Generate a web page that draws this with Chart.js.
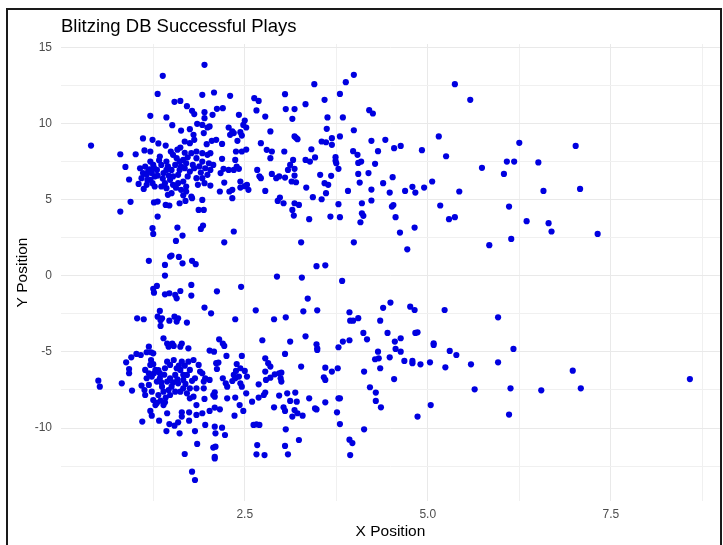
<!DOCTYPE html>
<html>
<head>
<meta charset="utf-8">
<script src="https://cdn.jsdelivr.net/npm/chart.js@4.4.1/dist/chart.umd.min.js"></script>
<style>
  html, body { margin: 0; padding: 0; background: #ffffff; }
  #wrap { position: relative; width: 723px; height: 545px; overflow: hidden; }
  #c { display: block; }
  #frame { position: absolute; left: 6px; top: 8px; width: 716px; height: 600px; box-sizing: border-box;
           border: 2px solid #1a1a1a; border-bottom: none; pointer-events: none; }
</style>
</head>
<body>
<div id="wrap">
  <canvas id="c" width="723" height="545"></canvas>
  <div id="frame"></div>
</div>
<script>
// ---- Data (X Position, Y Position) ----
const chartTitle = 'Blitzing DB Successful Plays';
const xAxisTitle = 'X Position';
const yAxisTitle = 'Y Position';

const xMajorTicks = [2.5, 5.0, 7.5];
const xMinorTicks = [1.25, 3.75, 6.25, 8.75];
const yMajorTicks = [-10, -5, 0, 5, 10, 15];
const yMinorTicks = [-12.5, -7.5, -2.5, 2.5, 7.5, 12.5];

const upperPlays = [
[1.38,13.16],[1.31,11.97],[1.54,11.45],[1.62,11.51],[1.71,11.16],[1.78,10.86],[1.81,10.64],[1.21,10.53],[1.43,10.42],[1.51,9.91],
[1.85,10.0],[1.63,9.56],[1.75,9.65],[1.80,9.28],[0.40,8.57],[1.11,9.04],[1.24,8.95],[1.32,8.71],[1.42,8.57],[0.80,8.0],
[1.01,8.0],[1.13,8.25],[1.21,8.18],[1.49,8.18],[1.62,8.44],[1.68,8.84],[1.75,8.73],[1.81,8.95],[1.84,8.18],[0.87,7.17],
[0.92,6.34],[1.05,6.05],[1.12,5.72],[0.94,4.87],[0.80,4.23],[1.26,4.83],[1.31,4.89],[1.42,4.67],[1.47,4.63],[1.61,4.78],
[1.69,4.93],[1.78,5.11],[1.87,4.34],
[1.21,7.52],[1.25,7.3],[1.18,6.86],[1.11,6.76],[1.16,6.65],[1.23,6.76],[1.27,6.54],[1.21,6.32],[1.30,6.97],[1.36,7.3],
[1.34,7.85],[1.43,7.52],[1.50,6.97],[1.52,7.96],[1.57,7.74],[1.61,7.52],[1.66,7.63],[1.70,7.41],[1.68,7.08],[1.75,6.86],
[1.79,7.3],[1.84,7.74],[1.77,8.07],[1.81,7.08],[1.59,6.65],[1.52,6.54],[1.48,6.32],[1.41,6.1],[1.36,5.88],[1.43,5.77],
[1.52,5.99],[1.59,6.1],[1.66,6.21],[1.70,5.88],[1.63,5.66],[1.70,5.55],[1.77,5.22],[1.50,5.44],[1.45,5.33],[1.27,5.88],
[1.16,5.99],[1.14,7.19],[1.07,7.08],[1.09,6.43],[1.39,6.76],[1.43,6.97],[1.61,6.97],[1.72,6.54],[1.84,6.43],[1.86,5.99],
[1.20,7.0],[1.26,7.1],[1.31,6.6],[1.17,6.3],[1.24,6.1],[1.33,7.6],[1.45,7.2],[1.55,7.3],[1.63,7.2],[1.72,7.8],
[1.58,8.3],[1.68,8.1],[1.88,7.2],[1.90,6.8],[1.46,6.6],[1.38,6.4],[1.56,5.8],[1.66,5.3],
[1.95,13.88],[1.92,11.91],[2.08,12.06],[2.30,11.84],[1.95,10.77],[1.95,10.37],[2.06,10.59],[2.12,10.99],[2.20,11.03],[2.42,10.59],
[2.63,11.69],[2.69,11.51],[2.66,10.88],[2.78,10.48],[3.05,11.95],[3.06,10.97],[3.18,10.97],[3.15,10.33],[3.33,11.29],[3.45,12.61],
[3.59,11.58],[3.63,10.42],
[1.92,9.93],[1.99,9.76],[2.02,9.83],[1.94,9.39],[2.28,9.76],[2.33,9.5],[2.30,9.28],[2.35,9.39],[2.44,9.45],[2.46,9.23],
[2.50,10.22],[2.48,9.93],[2.52,9.76],[2.40,8.88],[2.05,8.88],[2.11,8.95],[1.98,8.66],[2.19,8.68],[1.92,8.07],[1.99,7.96],
[2.03,8.07],[2.38,8.18],[2.46,8.18],[2.52,8.31],[2.85,9.5],[2.72,8.73],[2.80,8.29],[2.87,8.18],[2.85,7.74],[3.04,8.18],
[3.18,9.17],[3.22,8.99],[3.20,9.08],[3.41,8.33],[3.55,8.84],[3.61,8.79],[3.62,9.67],[3.33,7.63],[3.39,7.52],[3.46,7.79],
[3.16,7.63],
[1.92,7.52],[2.01,7.41],[2.07,7.3],[1.96,7.08],[2.03,6.97],[2.19,7.7],[2.37,7.63],[2.39,7.19],[2.35,6.97],[2.28,6.97],
[2.21,7.04],[2.17,6.76],[2.42,7.04],[1.99,6.65],[1.92,6.43],[1.95,6.1],[2.03,5.94],[2.22,6.14],[2.16,5.55],[2.29,5.55],
[2.33,5.66],[2.44,6.21],[2.44,5.81],[2.53,5.99],[2.55,5.66],[2.50,5.9],[2.67,6.97],[2.72,6.43],[2.70,6.55],[2.87,6.71],
[2.93,6.43],[2.97,6.54],[3.05,6.47],[3.09,6.97],[3.12,7.3],[3.18,7.04],[3.14,6.21],[3.20,6.16],[3.18,6.6],[2.78,5.59],
[2.98,5.15],[2.95,4.93],[3.03,4.78],[3.18,4.78],[3.24,4.67],[3.15,4.34],[3.34,5.81],[3.43,5.18],[3.53,6.65],[3.59,6.1],
[3.64,5.99],[3.55,5.04],[3.61,5.44],[1.92,5.0],[1.94,4.34],[2.33,5.11],
[3.99,13.22],[3.88,12.74],[3.80,11.97],[3.84,10.42],[4.20,10.9],[4.25,10.68],[5.37,12.61],[3.99,9.58],[3.80,9.17],[3.69,8.62],
[3.69,9.06],[4.23,8.88],[4.42,8.95],[4.54,8.4],[4.63,8.55],[4.92,8.27],[5.15,9.17],[5.25,7.87],[3.98,8.2],[4.04,7.96],
[3.74,7.81],[3.74,7.57],[3.75,7.41],[3.78,7.04],[4.05,7.43],[4.09,7.52],[4.28,7.37],[4.32,8.2],[3.68,6.58],[4.05,6.71],
[4.07,6.14],[4.19,6.76],[4.39,6.1],[4.52,6.49],[3.91,5.59],[4.23,5.68],[4.48,5.48],[4.69,5.59],[4.79,5.86],[4.83,5.48],
[4.95,5.81],[5.06,6.21],[5.43,5.55],[3.78,4.72],[4.10,4.78],[4.23,4.96],[4.51,4.56],[4.53,4.66],[5.17,4.63],[4.10,4.12],
[5.58,11.58],[6.25,8.75],[7.02,8.55],[6.08,7.52],[6.18,7.52],[6.51,7.46],[5.74,7.11],[6.04,6.71],[6.58,5.59],[7.08,5.72],
[6.11,4.56],[6.35,3.6],[6.65,3.47],[6.69,2.92],[7.32,2.76],[6.14,2.43],[5.84,2.02]
];

const middlePlays = [
[1.31,3.9],[1.24,3.14],[1.25,2.76],[1.58,3.18],[1.65,2.65],[1.56,2.3],[1.90,3.09],[1.93,3.31],[2.35,2.92],[2.22,2.21],
[3.17,3.97],[3.38,3.73],[3.27,2.21],[1.19,0.99],[1.41,0.72],[1.48,1.27],[1.50,1.34],[1.60,1.25],[1.65,0.83],[1.78,0.99],
[1.83,0.77],[1.41,0.02],[2.94,-0.04],[3.28,-0.11],[3.48,0.64],[3.60,0.7],[1.25,-0.85],[1.26,-1.1],[1.30,-0.66],[1.41,-1.21],
[1.47,-1.14],[1.55,-1.25],[1.57,-1.47],[1.62,-0.99],[1.77,-0.59],[1.77,-1.29],[2.12,-1.01],[2.45,-0.72],[1.95,-2.08],[2.04,-2.46],
[1.34,-2.3],[1.03,-2.79],[1.12,-2.85],[1.31,-2.68],[1.37,-2.79],[1.35,-2.92],[1.47,-2.94],[1.54,-2.68],[1.59,-2.79],[1.57,-3.0],
[1.71,-3.07],[1.35,-3.29],[2.37,-2.85],[2.65,-2.26],[2.90,-2.85],[3.06,-2.72],[3.30,-2.33],[3.49,-2.26],[3.36,-1.49],[1.39,-4.1],
[1.44,-4.45],[1.51,-4.45],[1.64,-4.45],[2.15,-4.17],[2.20,-4.45],[2.74,-4.23],[3.12,-4.32],[3.33,-3.97],[3.48,-4.5],
[3.67,3.9],[3.80,3.86],[4.08,3.53],[4.12,3.95],[4.56,3.86],[4.62,2.85],[4.82,3.18],[5.29,3.73],[5.37,3.86],[3.99,2.21],
[4.72,1.75],[3.83,-0.33],[3.93,-2.39],[3.94,-2.94],[3.98,-2.94],[4.05,-2.78],[4.39,-2.1],[4.49,-1.75],[4.76,-2.02],[4.82,-2.24],
[4.35,-2.94],[5.23,-2.24],[5.96,-2.72],[4.12,-3.75],[4.17,-4.17],[4.45,-3.75],[4.63,-4.1],[4.55,-4.32],[4.83,-3.75],[4.86,-3.71],
[3.84,-4.32],[3.93,-4.23],[5.08,-4.43]
];

const lowerPlays = [
[0.50,-6.89],[0.52,-7.28],[0.82,-7.06],[0.88,-5.68],[0.95,-5.35],[1.02,-5.13],[1.08,-5.2],[1.16,-5.02],[1.19,-4.65],[1.22,-5.02],
[1.25,-5.09],[0.92,-6.12],[0.92,-6.4],[0.96,-7.54],[1.09,-7.21],[1.13,-7.5],[1.14,-7.83],[1.10,-9.58],[1.21,-8.88],[1.23,-9.19],
[1.33,-9.52],[1.43,-10.2],[1.47,-9.74],[1.54,-9.85],[1.59,-9.63],[1.61,-10.35],[1.64,-9.25],[1.64,-8.97],[1.74,-8.97],[1.74,-9.52],
[1.82,-10.2],[1.84,-9.14],[1.85,-11.05],[1.68,-11.71],[1.78,-12.87],[1.82,-13.42],[1.44,-9.03],
[1.14,-6.18],[1.19,-6.4],[1.16,-6.73],[1.23,-6.62],[1.21,-5.85],[1.22,-5.53],[1.28,-6.18],[1.34,-6.4],[1.30,-6.95],[1.37,-7.28],
[1.34,-6.73],[1.41,-6.07],[1.44,-5.64],[1.48,-5.85],[1.53,-5.53],[1.57,-6.07],[1.62,-6.18],[1.64,-5.64],[1.55,-6.51],[1.48,-6.73],
[1.44,-6.95],[1.50,-7.28],[1.59,-7.06],[1.66,-6.84],[1.71,-6.51],[1.75,-6.18],[1.82,-6.73],[1.84,-7.39],[1.75,-7.39],[1.71,-7.72],
[1.75,-8.05],[1.66,-7.39],[1.62,-7.61],[1.48,-7.83],[1.41,-8.31],[1.39,-8.49],[1.25,-8.16],[1.28,-8.49],[1.23,-7.61],[1.19,-7.17],
[1.84,-8.49],[1.80,-7.94],[1.62,-4.65],[1.73,-4.76],[1.46,-4.65],[1.53,-4.6],[1.73,-5.64],[1.80,-5.53],[1.87,-5.85],[1.89,-6.29],
[1.39,-7.61],[1.55,-7.61],[1.32,-7.83],
[1.26,-6.4],[1.32,-6.2],[1.40,-6.5],[1.36,-7.0],[1.46,-7.5],[1.52,-7.0],[1.58,-6.8],[1.66,-6.5],[1.60,-5.9],[1.42,-8.0],
[1.35,-8.2],[1.30,-8.35],[1.69,-7.1],[1.78,-6.9],[1.25,-5.8],[1.68,-5.9],
[2.02,-4.91],[2.08,-4.98],[2.22,-4.6],[2.11,-5.74],[2.14,-5.70],[2.25,-5.26],[2.46,-5.26],[2.39,-5.79],[2.12,-6.12],[2.78,-5.42],
[2.82,-5.74],[2.85,-5.96],[3.05,-5.13],[2.78,-6.29],[2.38,-6.25],[2.50,-6.25],[3.27,-5.96],[3.49,-4.76],[3.60,-6.03],[1.92,-6.4],
[1.96,-6.73],[2.02,-6.84],[1.94,-7.39],[1.95,-8.09],[1.92,-9.03],[2.07,-7.83],[2.09,-7.94],[2.09,-7.65],[2.20,-6.73],[2.24,-7.06],
[2.26,-7.28],[2.33,-6.91],[2.35,-6.51],[2.37,-6.73],[2.42,-6.62],[2.44,-7.06],[2.46,-7.28],[2.53,-6.62],[2.52,-7.72],[2.26,-8.05],
[2.37,-8.0],[2.43,-8.49],[2.48,-8.88],[2.36,-9.19],[2.16,-8.77],[2.09,-8.66],[2.02,-8.88],[2.69,-7.13],[2.60,-8.27],[2.69,-8.0],
[2.76,-7.83],[2.78,-7.67],[2.79,-6.84],[2.85,-6.69],[2.91,-6.47],[2.97,-6.4],[3.00,-6.36],[2.99,-6.73],[3.00,-6.95],[2.97,-7.87],
[3.08,-7.72],[3.19,-7.67],[2.90,-8.64],[3.03,-8.64],[3.05,-8.88],[3.12,-8.22],[3.21,-8.27],[3.18,-8.82],[3.22,-9.03],[3.15,-9.25],
[3.29,-9.19],[3.38,-8.05],[3.46,-8.71],[3.48,-8.78],[3.60,-8.31],[3.60,-6.84],[3.58,-6.67],[3.49,-4.87],[1.96,-9.8],[2.09,-9.91],
[2.10,-10.35],[2.19,-9.98],[2.23,-10.46],[2.62,-9.8],[2.66,-9.76],[2.70,-9.8],[3.06,-10.09],[3.24,-10.79],[2.07,-11.29],[2.10,-11.23],
[2.09,-11.89],[2.09,-12.0],[2.67,-11.12],[2.66,-11.73],[2.77,-11.78],[3.05,-11.18],[3.09,-11.73],[1.94,-6.95],[2.44,-6.07],
[3.78,-4.69],[4.32,-4.98],[4.28,-5.48],[4.33,-5.42],[4.56,-4.8],[4.63,-4.98],[4.48,-5.35],[4.68,-5.59],[4.79,-5.59],[4.79,-5.74],
[4.90,-5.81],[5.03,-5.68],[5.08,-4.54],[5.30,-4.93],[5.39,-5.2],[5.24,-6.01],[3.69,-6.29],[3.77,-6.07],[4.13,-6.29],[4.35,-6.07],
[4.54,-6.78],[4.21,-7.32],[4.29,-7.67],[4.29,-8.22],[4.36,-8.64],[3.78,-8.05],[3.80,-8.05],[3.76,-8.97],[3.80,-9.74],[4.13,-10.09],
[3.93,-10.77],[3.97,-10.99],[3.94,-11.78],[4.86,-9.25],[5.04,-8.49],
[6.17,-4.8],[5.59,-5.81],[5.96,-5.68],[6.98,-6.23],[5.64,-7.46],[6.13,-7.39],[6.55,-7.52],[7.09,-7.39],[8.58,-6.78],[6.11,-9.12]
];

// ---- Chart ----
const toPoints = arr => arr.map(p => ({ x: p[0], y: p[1] }));
const allPlays = toPoints(upperPlays.concat(middlePlays, lowerPlays));

const FONT = '"Liberation Sans", Arial, "DejaVu Sans", sans-serif';
const xTickList = xMinorTicks.concat(xMajorTicks).sort((a, b) => a - b);
const yTickList = yMinorTicks.concat(yMajorTicks).sort((a, b) => a - b);
const isMajor = (list, v) => list.some(t => Math.abs(t - v) < 1e-9);

const titlePlugin = {
  id: 'plotTitle',
  afterDraw(chart) {
    const ctx = chart.ctx;
    ctx.save();
    ctx.fillStyle = '#000000';
    ctx.font = '18.5px ' + FONT;
    ctx.textAlign = 'left';
    ctx.textBaseline = 'alphabetic';
    ctx.fillText(chartTitle, 61, 32);
    ctx.restore();
  }
};

new Chart(document.getElementById('c'), {
  type: 'scatter',
  data: {
    datasets: [{
      data: allPlays,
      backgroundColor: '#0000e0',
      borderWidth: 0,
      pointRadius: 3.1,
      pointHoverRadius: 3.1
    }]
  },
  options: {
    responsive: false,
    animation: false,
    devicePixelRatio: 1,
    events: [],
    layout: { padding: { left: 0, right: 3, top: 44, bottom: 0 } },
    plugins: { legend: { display: false }, title: { display: false }, tooltip: { enabled: false } },
    scales: {
      x: {
        type: 'linear',
        min: -0.01,
        max: 8.99,
        afterBuildTicks: s => { s.ticks = xTickList.map(v => ({ value: v })); },
        afterFit: s => { s.height = 44; },
        border: { display: false },
        grid: {
          drawTicks: false,
          color: c => isMajor(xMajorTicks, c.tick.value) ? '#e9e9e9' : '#f0f0f0',
          lineWidth: 1
        },
        ticks: {
          autoSkip: false,
          maxRotation: 0,
          padding: 6,
          color: '#4d4d4d',
          font: { family: FONT, size: 12 },
          callback: v => isMajor(xMajorTicks, v) ? v.toFixed(1) : ''
        },
        title: {
          display: true,
          text: xAxisTitle,
          color: '#000000',
          font: { family: FONT, size: 15.5 },
          padding: { top: 0, bottom: 4 }
        }
      },
      y: {
        type: 'linear',
        min: -14.8,
        max: 15.25,
        afterBuildTicks: s => { s.ticks = yTickList.map(v => ({ value: v })); },
        afterFit: s => { s.width = 61; },
        border: { display: false },
        grid: {
          drawTicks: false,
          color: c => isMajor(yMajorTicks, c.tick.value) ? '#e9e9e9' : '#f0f0f0',
          lineWidth: 1
        },
        ticks: {
          autoSkip: false,
          padding: 9,
          color: '#4d4d4d',
          font: { family: FONT, size: 12 },
          callback: v => isMajor(yMajorTicks, v) ? String(v) : ''
        },
        title: {
          display: true,
          text: yAxisTitle,
          color: '#000000',
          font: { family: FONT, size: 15.5 },
          padding: { top: 13, bottom: 0 }
        }
      }
    }
  },
  plugins: [titlePlugin]
});
</script>
</body>
</html>
